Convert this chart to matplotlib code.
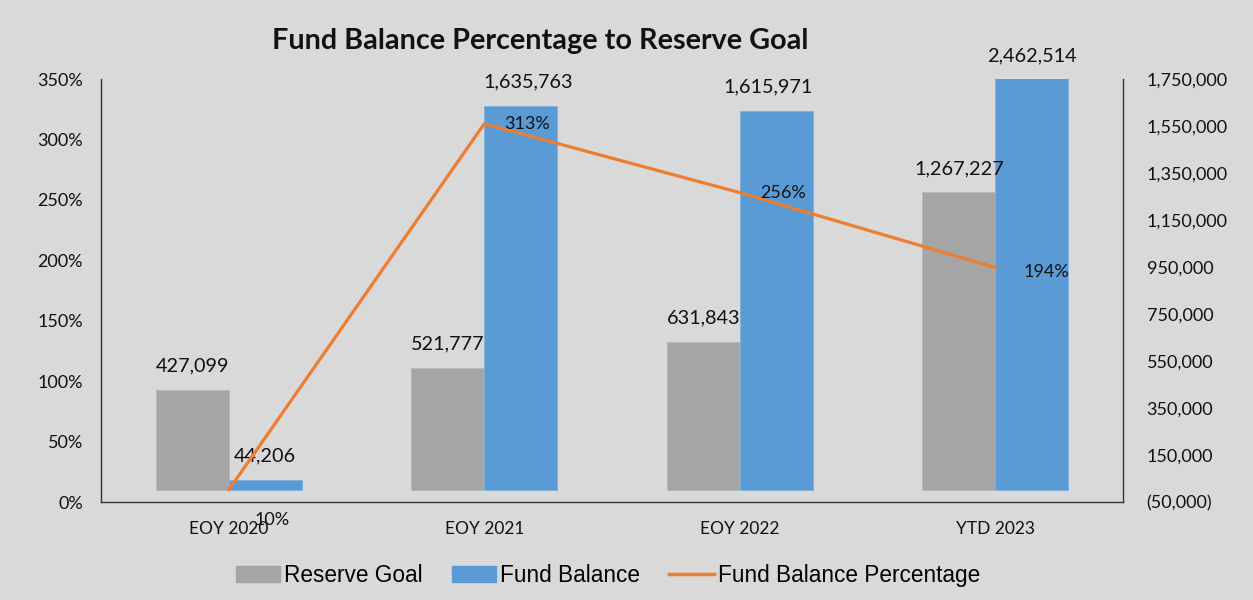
import matplotlib
matplotlib.use('Agg')
import matplotlib.pyplot as plt
import matplotlib.ticker as mticker
from matplotlib.patches import Patch
from matplotlib.lines import Line2D
import numpy as np

categories = ['EOY 2020', 'EOY 2021', 'EOY 2022', 'YTD 2023']
reserve_goal = [427099, 521777, 631843, 1267227]
fund_balance = [44206, 1635763, 1615971, 2462514]
pct_of_goal = [10, 313, 256, 194]
pct_labels = ['10%', '313%', '256%', '194%']

bg = '#d9d9d9'
gray = '#a5a5a5'
blue = '#5b9bd5'
orange = '#ed7d31'

plt.rcParams['font.family'] = ['Lato', 'DejaVu Sans']

fig = plt.figure(figsize=(12.53, 6.0), dpi=100, facecolor=bg)
ax = fig.add_axes([0.0806, 0.1633, 0.8157, 0.705])
ax2 = ax.twinx()
ax.set_zorder(ax2.get_zorder() + 1)
ax.patch.set_visible(False)
ax2.set_facecolor(bg)

x = np.arange(len(categories))
w = 0.285

# bars on right axis
b1 = ax2.bar(x - w / 2, reserve_goal, w, color=gray, edgecolor='#b8b8b8', linewidth=0.6)
b2 = ax2.bar(x + w / 2, fund_balance, w, color=blue, edgecolor='#7fb0dd', linewidth=0.6)
ymax2 = 1750000
ax2.set_ylim(-50000, ymax2)
ax2.set_yticks(np.arange(-50000, 1750001, 200000))
ax2.yaxis.set_major_formatter(mticker.FuncFormatter(
    lambda v, p: '({:,.0f})'.format(-v) if v < 0 else '{:,.0f}'.format(v)))

# small manual nudges of the labels (points), as in the source chart
nudge = {(1, 1): 5, (1, 2): -6}
for k, (bars, vals) in enumerate(((b1, reserve_goal), (b2, fund_balance))):
    for i, (r, v) in enumerate(zip(bars, vals)):
        ax2.annotate('{:,}'.format(v), (r.get_x() + r.get_width() / 2, min(v, ymax2)),
                     xytext=(nudge.get((k, i), 0), 17), textcoords='offset points',
                     ha='center', va='center', fontsize=14.3, color='#111111',
                     annotation_clip=False)

# line on left axis
ax.plot(x, pct_of_goal, color=orange, lw=2.3, solid_capstyle='round')
ax.set_ylim(0, 350)
ax.set_yticks(np.arange(0, 351, 50))
ax.yaxis.set_major_formatter(mticker.FuncFormatter(lambda v, p: '%d%%' % v))
ax.set_xlim(-0.5, 3.5)
ax.set_xticks(x)
ax.set_xticklabels(categories)

offsets = [(31, -21.5), (31, 0), (31, 0), (37, -3)]
for xi, v, lab, off in zip(x, pct_of_goal, pct_labels, offsets):
    ax.annotate(lab, (xi, v), xytext=off, textcoords='offset points', ha='center', va='center',
                fontsize=13, color='#111111', annotation_clip=False)

for a in (ax, ax2):
    a.spines['top'].set_visible(False)
    a.tick_params(length=0, labelsize=13, colors='#111111')
ax.tick_params(axis='x', labelsize=12.5)
ax2.spines['left'].set_visible(False)
ax2.spines['bottom'].set_visible(False)
ax.spines['right'].set_visible(False)
for a, s in ((ax, 'left'), (ax, 'bottom'), (ax2, 'right')):
    a.spines[s].set_color('#333333')
    a.spines[s].set_linewidth(1.0)
ax.tick_params(axis='y', pad=13)
ax.tick_params(axis='x', pad=14)
ax2.tick_params(axis='y', pad=17)

fig.text(0.431, 0.932, 'Fund Balance Percentage to Reserve Goal', ha='center', va='center',
         fontsize=20.7, fontweight='bold', color='#111111')

handles = [Patch(color=gray), Patch(color=blue), Line2D([], [], color=orange, lw=2.5)]
fig.legend(handles, ['Reserve Goal', 'Fund Balance', 'Fund Balance Percentage'],
           loc='center', bbox_to_anchor=(0.485, 0.041), ncol=3, frameon=False,
           prop={'family': 'Liberation Sans', 'size': 16.3}, handlelength=1.95,
           handletextpad=0.18, columnspacing=1.3)

fig.savefig('out.png', dpi=100, facecolor=bg)
